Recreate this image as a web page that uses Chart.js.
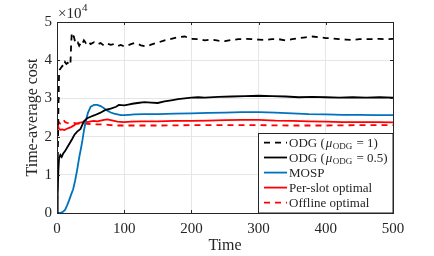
<!DOCTYPE html>
<html>
<head>
<meta charset="utf-8">
<script src="https://cdn.jsdelivr.net/npm/chart.js@4/dist/chart.umd.min.js"></script>
<style>
  html, body { margin: 0; padding: 0; background: #fff; }
  #wrap { width: 434px; height: 256px; position: relative; }
</style>
</head>
<body>
<div id="wrap"><canvas id="c" width="434" height="256"></canvas></div>
<script>
// ---- data (values in units of 1e4) ----
const tODG1 = [0,1,2,3,4,6,8,10,12,14,16,18,20,21,22,23,25,27,29,31,33,35,37,40,43,46,50,55,60,65,70,75,80,85,90,95,100,105,110,115,120,125,130,135,140,150,160,170,180,190,200,210,220,230,240,250,260,270,280,290,300,310,320,330,340,350,360,370,380,390,400,410,420,430,440,450,460,470,480,490,500];
const vODG1 = [0.0,1.2,2.6,3.6,3.75,3.8,3.85,3.82,3.95,3.9,3.93,3.87,3.9,4.4,4.72,4.66,4.62,4.48,4.42,4.46,4.38,4.44,4.4,4.52,4.45,4.5,4.42,4.47,4.41,4.45,4.38,4.43,4.4,4.42,4.37,4.4,4.36,4.38,4.42,4.45,4.43,4.39,4.37,4.36,4.41,4.46,4.52,4.56,4.6,4.62,4.56,4.55,4.52,4.54,4.51,4.5,4.53,4.55,4.56,4.55,4.54,4.53,4.55,4.55,4.52,4.55,4.58,4.6,4.62,4.6,4.58,4.57,4.55,4.54,4.53,4.55,4.55,4.55,4.56,4.55,4.56];

const tODG05 = [0,1,2,3,5,7,9,12,16,20,23,26,30,35,40,45,50,56,64,72,80,88,92,100,106,112,120,130,140,150,160,170,180,190,200,210,220,240,260,280,300,320,340,360,380,400,420,440,460,480,500];
const vODG05 = [0.0,0.5,1.1,1.42,1.52,1.47,1.55,1.62,1.74,1.86,1.95,2.05,2.13,2.2,2.4,2.48,2.52,2.56,2.62,2.7,2.73,2.78,2.83,2.82,2.84,2.86,2.88,2.9,2.89,2.88,2.92,2.95,2.98,3.0,3.02,3.03,3.02,3.04,3.05,3.06,3.07,3.06,3.05,3.03,3.04,3.03,3.02,3.03,3.02,3.03,3.02];

const tMOSP = [0,4,8,12,15,18,21,24,27,30,33,36,38,40,43,46,50,55,60,65,70,75,80,85,90,95,100,107,115,130,150,175,200,225,250,275,300,325,350,375,400,425,450,475,500];
const vMOSP = [0.0,0.0,0.02,0.08,0.2,0.33,0.48,0.62,0.85,1.13,1.45,1.72,1.92,2.15,2.42,2.62,2.78,2.83,2.83,2.8,2.74,2.68,2.63,2.6,2.58,2.56,2.56,2.57,2.58,2.59,2.59,2.6,2.61,2.62,2.63,2.64,2.64,2.63,2.61,2.59,2.58,2.57,2.57,2.56,2.56];

const tPer = [0,1,2,3,5,8,11,14,17,20,24,28,33,38,42,46,50,55,60,65,70,75,80,85,90,100,110,125,150,175,200,225,250,275,300,325,350,375,400,425,450,475,500];
const vPer = [2.46,2.35,2.25,2.2,2.18,2.19,2.17,2.2,2.22,2.24,2.28,2.33,2.36,2.38,2.4,2.38,2.4,2.41,2.4,2.42,2.44,2.45,2.43,2.41,2.39,2.38,2.39,2.4,2.4,2.41,2.41,2.42,2.43,2.44,2.44,2.42,2.41,2.4,2.39,2.38,2.38,2.38,2.37];

const tOff = [0,1,2,4,6,8,10,12,15,20,25,30,40,50,60,70,80,90,100,125,150,200,250,300,350,400,450,500];
const vOff = [2.45,2.42,2.4,2.35,2.33,2.38,2.43,2.38,2.36,2.35,2.36,2.34,2.34,2.33,2.32,2.32,2.3,2.29,2.29,2.29,2.29,2.3,2.3,2.3,2.29,2.29,2.3,2.3];

const xTicks = [0,100,200,300,400,500];
const yTicks = [0,1,2,3,4,5];
const seriesNames = ['ODG (μODG = 1)','ODG (μODG = 0.5)','MOSP','Per-slot optimal','Offline optimal'];

const pts = (t, v) => t.map((x, i) => ({x: x, y: v[i]}));
const SERIF = '"Liberation Serif", "DejaVu Serif", serif';
const AX = '#262626';

const datasets = [
  {label: seriesNames[0], data: pts(tODG1, vODG1), borderColor: '#000', borderWidth: 1.8, borderDash: [6,5], mu: '1'},
  {label: seriesNames[1], data: pts(tODG05, vODG05), borderColor: '#000', borderWidth: 1.8, mu: '0.5'},
  {label: seriesNames[2], data: pts(tMOSP, vMOSP), borderColor: '#0072BD', borderWidth: 1.8},
  {label: seriesNames[3], data: pts(tPer, vPer), borderColor: '#FF0000', borderWidth: 1.8},
  {label: seriesNames[4], data: pts(tOff, vOff), borderColor: '#FF0000', borderWidth: 1.8, borderDash: [6,5]}
].map(d => Object.assign({pointRadius: 0, fill: false, tension: 0, order: 0}, d));

const decor = {
  id: 'decor',
  afterDatasetsDraw(chart) {
    const ctx = chart.ctx, a = chart.chartArea;
    const xs = chart.scales.x, ys = chart.scales.y;
    ctx.save();
    // frame
    ctx.strokeStyle = AX; ctx.lineWidth = 1;
    ctx.strokeRect(Math.round(a.left) + 0.5, Math.round(a.top) + 0.5, Math.round(a.right - a.left), Math.round(a.bottom - a.top));
    // inward ticks
    ctx.beginPath();
    xTicks.forEach(v => {
      const px = Math.round(xs.getPixelForValue(v)) + 0.5;
      ctx.moveTo(px, a.bottom); ctx.lineTo(px, a.bottom - 3);
      ctx.moveTo(px, a.top); ctx.lineTo(px, a.top + 3);
    });
    yTicks.forEach(v => {
      const py = Math.round(ys.getPixelForValue(v)) + 0.5;
      ctx.moveTo(a.left, py); ctx.lineTo(a.left + 3, py);
      ctx.moveTo(a.right, py); ctx.lineTo(a.right - 3, py);
    });
    ctx.stroke();

    // exponent label
    ctx.fillStyle = AX;
    ctx.textBaseline = 'alphabetic'; ctx.textAlign = 'left';
    ctx.font = '15px ' + SERIF;
    ctx.fillText('×10', a.left + 1, a.top - 4);
    const w = ctx.measureText('×10').width;
    ctx.font = '11px ' + SERIF;
    ctx.fillText('4', a.left + 1 + w + 0.5, a.top - 11);

    // axis titles
    ctx.font = '16px ' + SERIF;
    ctx.textAlign = 'center'; ctx.textBaseline = 'middle';
    ctx.fillText('Time', (a.left + a.right) / 2, 246);
    ctx.save();
    ctx.translate(33, (a.top + a.bottom) / 2);
    ctx.rotate(-Math.PI / 2);
    ctx.fillText('Time-average cost', 0, 0);
    ctx.restore();

    // legend
    const L = 258, T = 133, R = a.right, B = a.bottom;
    ctx.fillStyle = '#fff';
    ctx.fillRect(L, T, R - L, B - T);
    ctx.strokeStyle = AX; ctx.lineWidth = 1;
    ctx.strokeRect(L + 0.5, T + 0.5, R - L - 0.5, B - T - 0.5);
    const rows = [142.7, 157.5, 172.6, 187.6, 202.6];
    chart.data.datasets.forEach((d, i) => {
      const y = rows[i];
      ctx.save();
      ctx.strokeStyle = d.borderColor; ctx.lineWidth = d.borderWidth;
      ctx.setLineDash(d.borderDash || []);
      ctx.beginPath(); ctx.moveTo(264, y); ctx.lineTo(287, y); ctx.stroke();
      ctx.restore();
      ctx.fillStyle = AX; ctx.textAlign = 'left'; ctx.textBaseline = 'alphabetic';
      const base = y + 4.5;
      let x = 289;
      if (d.mu) {
        ctx.font = '13px ' + SERIF;
        ctx.fillText('ODG (', x, base); x += ctx.measureText('ODG (').width + 1;
        ctx.font = 'italic 13px ' + SERIF;
        ctx.fillText('μ', x, base); x += ctx.measureText('μ').width + 0.5;
        ctx.font = '9px ' + SERIF;
        ctx.fillText('ODG', x, base + 2); x += ctx.measureText('ODG').width + 1;
        ctx.font = '13px ' + SERIF;
        const rest = ' = ' + d.mu + ')';
        ctx.fillText(rest, x, base);
      } else {
        ctx.font = '13px ' + SERIF;
        ctx.fillText(d.label, x, base);
      }
    });
    ctx.restore();
  }
};

new Chart(document.getElementById('c'), {
  type: 'line',
  data: { datasets },
  options: {
    responsive: false,
    animation: false,
    events: [],
    layout: { padding: { top: 22, right: 41, left: 0, bottom: 0 } },
    plugins: { legend: { display: false }, tooltip: { enabled: false } },
    scales: {
      x: {
        type: 'linear', min: 0, max: 500,
        afterFit: s => { s.height = 43; },
        afterBuildTicks: s => { s.ticks = xTicks.map(v => ({value: v})); },
        ticks: { color: AX, font: { family: SERIF, size: 15 }, padding: 7, maxRotation: 0, callback: v => String(v) },
        grid: { color: '#e6e6e6', lineWidth: 1, drawTicks: false },
        border: { display: false }
      },
      y: {
        type: 'linear', min: 0, max: 5,
        afterFit: s => { s.width = 57; },
        afterBuildTicks: s => { s.ticks = yTicks.map(v => ({value: v})); },
        ticks: { color: AX, font: { family: SERIF, size: 15 }, padding: 5, callback: v => String(v) },
        grid: { color: '#e6e6e6', lineWidth: 1, drawTicks: false },
        border: { display: false }
      }
    }
  },
  plugins: [decor]
});
</script>
</body>
</html>
